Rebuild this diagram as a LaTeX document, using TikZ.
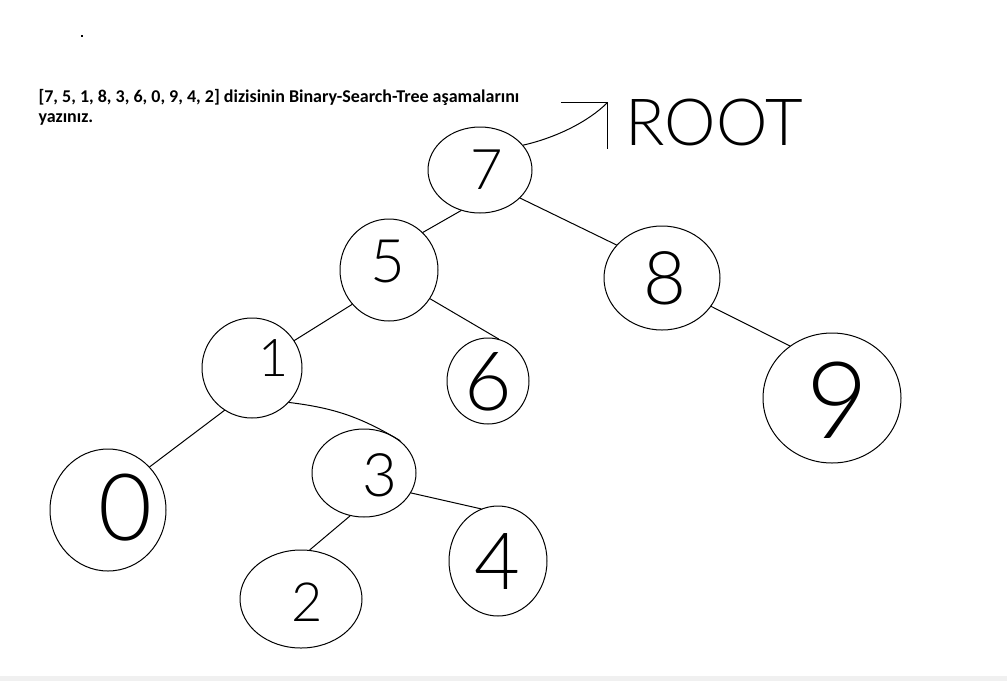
\documentclass[tikz,border=0pt]{standalone}
\usepackage{fontspec}
\usetikzlibrary{shapes.geometric,arrows.meta}
\newfontfamily\titlefont{Carlito}
\newfontfamily\handfont{Lato Light}
\definecolor{stripgray}{RGB}{240,240,240}
\begin{document}
\begin{tikzpicture}[x=1pt,y=-1pt,line width=1pt,
  bstnode/.style={draw,ellipse,inner sep=0pt,minimum width=2*#1},
  digit/.style={font=\handfont\fontsize{#1}{#1}\selectfont,inner sep=0pt},
  edge/.style={draw,line cap=round}]
\useasboundingbox (0,0) rectangle (1007,681);
\fill[stripgray] (0,676) rectangle (1007,681);
\fill (81,35) rectangle (83,37);

% heading (anchored on the baseline of its last line)
\node[anchor=base west,align=left,inner sep=0pt,
      font=\titlefont\bfseries\fontsize{18}{20}\selectfont] (title) at (38,122)
  {[7, 5, 1, 8, 3, 6, 0, 9, 4, 2] dizisinin Binary-Search-Tree aşamalarını\\yazınız.};

% tree nodes: ellipse outlines
\node[bstnode=52,minimum height=86] (n7) at (480,170) {};
\node[bstnode=49,minimum height=102] (n5) at (389,270) {};
\node[bstnode=58,minimum height=104] (n8) at (662,278) {};
\node[bstnode=50,minimum height=100] (n1) at (252,368) {};
\node[bstnode=41,minimum height=86] (n6) at (488,381) {};
\node[bstnode=69,minimum height=130] (n9) at (832,398) {};
\node[bstnode=58,minimum height=122] (n0) at (108,510) {};
\node[bstnode=52,minimum height=88] (n3) at (364,473) {};
\node[bstnode=61,minimum height=98] (n2) at (301,599) {};
\node[bstnode=49,minimum height=110] (n4) at (498,561) {};

% keys written inside the nodes
\node[digit=56] (d7) at (487,170) {7};
\node[digit=60] (d5) at (388,262) {5};
\node[digit=74] (d8) at (665,278) {8};
\node[digit=52] (d1) at (274,358) {1};
\node[digit=82] (d6) at (488,382) {6};
\node[digit=107] (d9) at (838,400) {9};
\node[digit=93] (d0) at (125,508) {0};
\node[digit=60] (d3) at (380,475) {3};
\node[digit=54] (d2) at (307,602) {2};
\node[digit=79] (d4) at (497,562) {4};

% parent-child links
\draw[edge] (n7.245) -- (n5.48);
\draw[edge] (n7.-35) -- (n8.144);
\draw[edge] (n5.223) -- (n1.33);
\draw[edge] (n5.-35) -- (n6.76);
\draw[edge] (n8.-30) -- (n9.129);
\draw[edge] (n1.237) -- (n0.46);
\draw[edge] (n1.-43) to[bend left=12] (n3.42);
\draw[edge] (n3.252) -- (n2.80);
\draw[edge] (n3.-23) -- (n4.108);

% root marker
\node[digit=65] (root) at (714,122) {ROOT};
\coordinate (roottip) at (608,102);
\draw[edge,-{Straight Barb[length=33pt,width=66pt]}]
  (n7.30) .. controls (555,138) and (588,122) .. (roottip);
\end{tikzpicture}
\end{document}
